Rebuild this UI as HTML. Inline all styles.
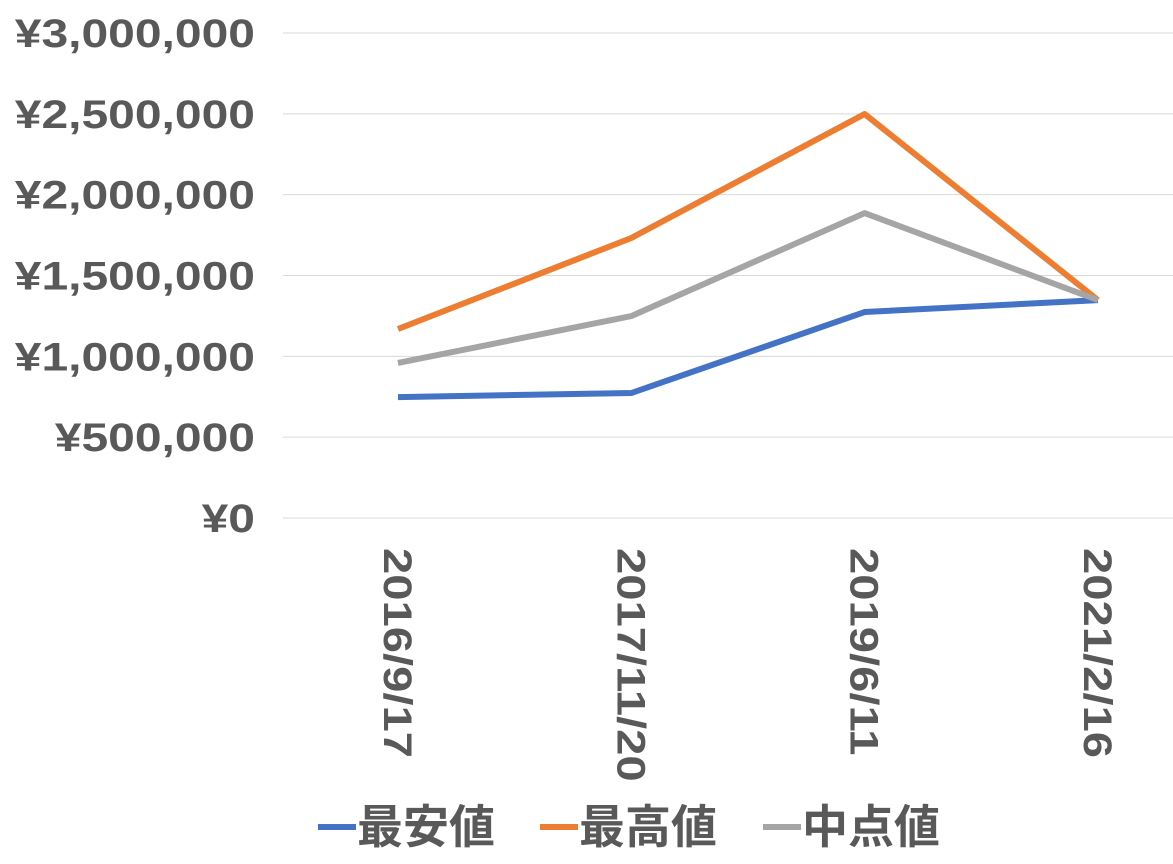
<!DOCTYPE html>
<html><head><meta charset="utf-8"><style>
body{margin:0;background:#fff;}
svg text{font-family:"Liberation Sans","Noto Sans CJK JP",sans-serif;font-weight:bold;fill:#595959;}
</style></head><body>
<svg id="chart" width="1173" height="859" xmlns="http://www.w3.org/2000/svg"></svg>
<script>
const categories=["2016/9/17","2017/11/20","2019/6/11","2021/2/16"];
const seriesNames=["最安値","最高値","中点値"];
const lowValues=[748000,773000,1274000,1348000];
const highValues=[1169000,1732000,2499000,1348000];
const midValues=[959000,1249000,1886000,1348000];
const yTicks=[0,500000,1000000,1500000,2000000,2500000,3000000];
const yTickLabels=["¥0","¥500,000","¥1,000,000","¥1,500,000","¥2,000,000","¥2,500,000","¥3,000,000"];
const colors=["#4472C4","#ED7D31","#A5A5A5"];
const svg=document.getElementById('chart');
const NS="http://www.w3.org/2000/svg";
function y(v){return 518-(v/3000000)*485;}
function x(i){return 398+i*233.3;}
function mk(t,a,p){const e=document.createElementNS(NS,t);for(const k in a)e.setAttribute(k,a[k]);(p||svg).appendChild(e);return e;}
function stretch(t,k){const l=t.getComputedTextLength();t.setAttribute('textLength',l*k);t.setAttribute('lengthAdjust','spacingAndGlyphs');}
yTicks.forEach((v,i)=>{
 const g=mk('line',{x1:283,x2:1173,y1:y(v),y2:y(v),stroke:'#D9D9D9','stroke-width':1});
 
 
 const t=mk('text',{x:255,y:y(v)+14,'text-anchor':'end','font-size':40});
 t.textContent=yTickLabels[i];
 
 
 stretch(t,1.2);
});
categories.forEach((c,i)=>{
 const t=mk('text',{transform:`translate(${x(i)-14},548) rotate(90)`,'text-anchor':'start','font-size':40});
 t.textContent=c;
 
 
 stretch(t,1.18);
});
[lowValues,highValues,midValues].forEach((s,k)=>{
 const p=mk('polyline',{points:s.map((v,i)=>x(i)+','+y(v)).join(' '),fill:'none',stroke:colors[k],'stroke-width':6,'stroke-linejoin':'round'});
 
 
});
const lx=[318,540,763];
seriesNames.forEach((n,k)=>{
 const l=mk('line',{x1:lx[k],x2:lx[k]+38,y1:827,y2:827,stroke:colors[k],'stroke-width':6});
 
 
 const t=mk('text',{x:lx[k]+39,y:843,'font-size':46});
 t.textContent=n;
 
 
});
</script>
</body></html>
